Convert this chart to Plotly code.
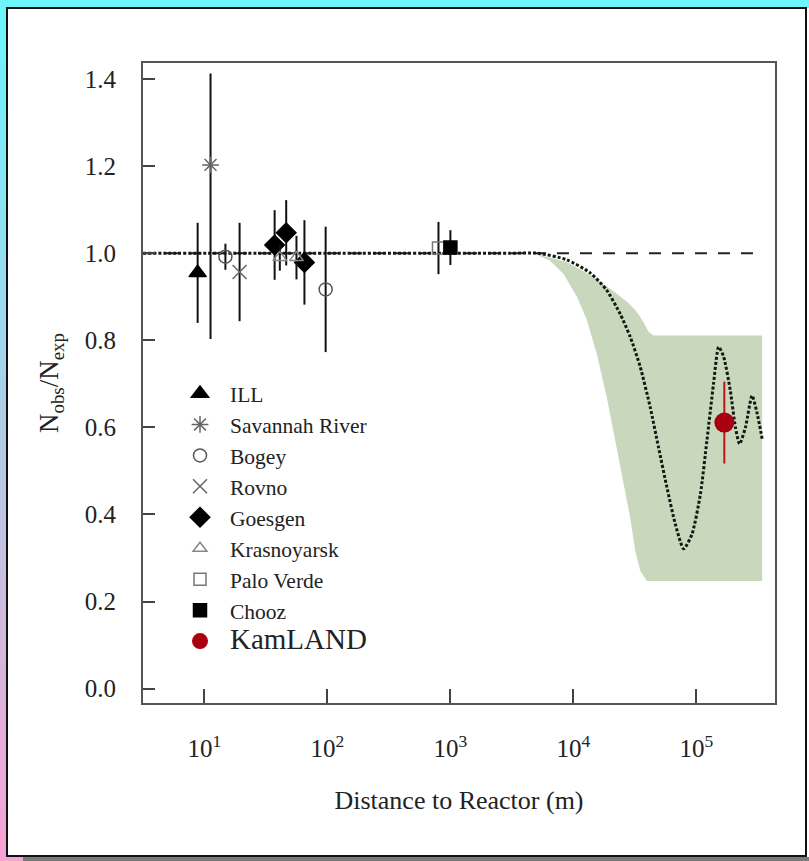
import plotly.graph_objects as go

# ---------------- data ----------------
ill_dist = [8.8]
ill_ratio = [0.955]
ill_err = [0.115]

sr_dist = [11.2]
sr_ratio = [1.203]
sr_err_up = [0.21]
sr_err_down = [0.40]

bugey_dist = [14.8, 96.7]
bugey_ratio = [0.992, 0.917]
bugey_err = [0.03, 0.144]

rovno_dist = [19.3]
rovno_ratio = [0.957]
rovno_err = [0.113]

goesgen_dist = [37.2, 46.2, 65.0]
goesgen_ratio = [1.019, 1.047, 0.979]
goesgen_err = [0.08, 0.075, 0.097]

kras_dist = [41.0, 56.0]
kras_ratio = [0.99, 0.99]
kras_err = [0.03, 0.05]

pv_dist = [800.0]
pv_ratio = [1.012]
pv_err = [0.06]

chooz_dist = [1000.0]
chooz_ratio = [1.013]
chooz_err = [0.04]

kam_dist = [1.69e5]
kam_ratio = [0.611]
kam_err = [0.094]

# expected-oscillation curve
curve_dist = [3.16, 100, 1000, 3000, 5200, 8850, 13700, 18700, 24000, 29000, 35000,
              42200, 49300, 57700, 67500, 78900, 92300, 108000, 122000, 138000,
              152000, 167000, 189000, 208000, 225000, 251000, 284000, 313000, 343000]
curve_ratio = [1.0, 1.0, 1.0, 1.0, 1.0, 0.985, 0.955, 0.915, 0.861, 0.808, 0.739,
               0.646, 0.554, 0.462, 0.378, 0.321, 0.355, 0.447, 0.570, 0.700,
               0.785, 0.762, 0.685, 0.600, 0.562, 0.600, 0.673, 0.631, 0.574]

# allowed band (polygon outline)
band_dist = [4730, 8830, 14550, 22600, 28500, 33500, 37500, 40900, 44900, 343000, 343000,
             39600, 35000, 31800, 29000, 25600, 21900, 18700, 15500, 12900, 10700,
             8300, 6460, 4730]
band_ratio = [1.0, 0.98, 0.946, 0.907, 0.884, 0.862, 0.84, 0.82, 0.811, 0.811, 0.247,
              0.247, 0.271, 0.317, 0.393, 0.470, 0.570, 0.669, 0.769, 0.846, 0.900,
              0.953, 0.983, 1.0]

no_osc_dist = [3.16, 3.4e5]
no_osc_ratio = [1.0, 1.0]

tick_vals = [10, 100, 1000, 10000, 100000]
tick_text = ["10<sup>1</sup>", "10<sup>2</sup>", "10<sup>3</sup>", "10<sup>4</sup>", "10<sup>5</sup>"]

# ---------------- figure ----------------
W, H = 809, 861
L, R, T, B = 143, 34, 63, 158
PW, PH = W - L - R, H - T - B
SERIF = "Liberation Serif, Times New Roman, serif"


def px(x):
    return (x - L) / PW


def py(y):
    return (H - B - y) / PH


fig = go.Figure()

fig.add_trace(go.Scatter(x=band_dist, y=band_ratio, mode="lines", fill="toself",
                         fillcolor="#c9d8bd", line=dict(width=0), showlegend=False,
                         hoverinfo="skip"))
fig.add_trace(go.Scatter(x=no_osc_dist, y=no_osc_ratio, mode="lines",
                         line=dict(color="#222222", width=2, dash="12px,11px"),
                         showlegend=False, hoverinfo="skip"))
fig.add_trace(go.Scatter(x=curve_dist, y=curve_ratio, mode="lines",
                         line=dict(color="#111a11", width=3, dash="3px,2px", shape="spline",
                                   smoothing=0.6),
                         showlegend=False, hoverinfo="skip"))


def err(vals):
    return dict(type="data", array=vals, color="#111111", thickness=2, width=0)


def add_exp(name, xs, ys, e, symbol, color, size, lw=1.5, err_dict=None):
    fig.add_trace(go.Scatter(
        x=xs, y=ys, mode="markers", name=name, legendgroup=name,
        error_y=err_dict if err_dict is not None else err(e),
        marker=dict(symbol=symbol, color=color, size=size,
                    line=dict(color=color, width=lw))))


add_exp("ILL", ill_dist, ill_ratio, ill_err, "triangle-up", "#000000", 15)
add_exp("Savannah River", sr_dist, sr_ratio, None, "asterisk-open", "#666666", 14,
        err_dict=dict(type="data", symmetric=False, array=sr_err_up, arrayminus=sr_err_down,
                      color="#111111", thickness=2, width=0))
add_exp("Bogey", bugey_dist, bugey_ratio, bugey_err, "circle-open", "#555555", 13)
add_exp("Rovno", rovno_dist, rovno_ratio, rovno_err, "x-thin-open", "#666666", 14)
add_exp("Goesgen", goesgen_dist, goesgen_ratio, goesgen_err, "diamond", "#000000", 15)
add_exp("Krasnoyarsk", kras_dist, kras_ratio, kras_err, "triangle-up-open", "#888888", 12)
add_exp("Palo Verde", pv_dist, pv_ratio, pv_err, "square-open", "#777777", 12)
add_exp("Chooz", chooz_dist, chooz_ratio, chooz_err, "square", "#000000", 13)
fig.add_trace(go.Scatter(
    x=kam_dist, y=kam_ratio, mode="markers", legendgroup="KamLAND",
    name='<span style="font-size:29px">KamLAND</span>',
    error_y=dict(type="data", array=kam_err, color="#c0101a", thickness=2, width=0),
    marker=dict(symbol="circle", color="#a80010", size=20, line=dict(width=0))))

# ---------------- frame decoration ----------------
shapes = []
# left gradient strip (cyan -> pink)
c0 = (108, 246, 251)
c1 = (246, 164, 212)
n = 30
for i in range(n):
    t = i / (n - 1)
    col = "rgb(%d,%d,%d)" % tuple(round(c0[k] + (c1[k] - c0[k]) * t) for k in range(3))
    y0 = i * H / n
    y1 = (i + 1) * H / n + 1
    shapes.append(dict(type="rect", xref="paper", yref="paper", x0=px(0), x1=px(7),
                       y0=py(y1), y1=py(y0), fillcolor=col, line=dict(width=0), layer="below"))
# top cyan band
shapes.append(dict(type="rect", xref="paper", yref="paper", x0=px(0), x1=px(W),
                   y0=py(8), y1=py(0), fillcolor="rgb(108,246,251)", line=dict(width=0),
                   layer="below"))
# bottom strips
shapes.append(dict(type="rect", xref="paper", yref="paper", x0=px(0), x1=px(23),
                   y0=py(H), y1=py(857), fillcolor="rgb(246,164,212)", line=dict(width=0),
                   layer="below"))
shapes.append(dict(type="rect", xref="paper", yref="paper", x0=px(23), x1=px(W),
                   y0=py(H), y1=py(857), fillcolor="#7a7a7a", line=dict(width=0),
                   layer="below"))
# panel border
shapes.append(dict(type="rect", xref="paper", yref="paper", x0=px(7), x1=px(806),
                   y0=py(856), y1=py(8), fillcolor="rgba(0,0,0,0)",
                   line=dict(color="#111111", width=2), layer="below"))

fig.update_layout(
    width=W, height=H,
    margin=dict(l=L, r=R, t=T, b=B, pad=0),
    paper_bgcolor="white", plot_bgcolor="white",
    font=dict(family=SERIF, color="#222222"),
    shapes=shapes,
    showlegend=True,
    legend=dict(x=px(170), y=py(373), xanchor="left", yanchor="top",
                bgcolor="rgba(0,0,0,0)", font=dict(family=SERIF, size=21.5, color="#222222"),
                tracegroupgap=0, itemsizing="trace", itemwidth=50),
    xaxis=dict(type="log", range=[0.5, 5.64], tickvals=tick_vals, ticktext=tick_text,
               ticks="inside", ticklen=14, tickwidth=2, tickcolor="#444444",
               showline=True, linecolor="#555555", linewidth=2, mirror=True,
               showgrid=False, zeroline=False, ticklabelstandoff=22,
               tickfont=dict(family=SERIF, size=25, color="#222222"),
               title=dict(text="Distance to Reactor (m)", standoff=30,
                          font=dict(family=SERIF, size=26, color="#222222"))),
    yaxis=dict(range=[-0.033, 1.437], tickvals=[0.0, 0.2, 0.4, 0.6, 0.8, 1.0, 1.2, 1.4],
               ticktext=["0.0", "0.2", "0.4", "0.6", "0.8", "1.0", "1.2", "1.4"],
               ticks="inside", ticklen=12, tickwidth=2, tickcolor="#444444",
               showline=True, linecolor="#555555", linewidth=2, mirror=True,
               showgrid=False, zeroline=False, ticklabelstandoff=20,
               tickfont=dict(family=SERIF, size=25, color="#222222"),
               title=dict(text="N<sub>obs</sub>/N<sub>exp</sub>", standoff=18,
                          font=dict(family=SERIF, size=27, color="#222222"))),
)

fig.write_html("out.html")
